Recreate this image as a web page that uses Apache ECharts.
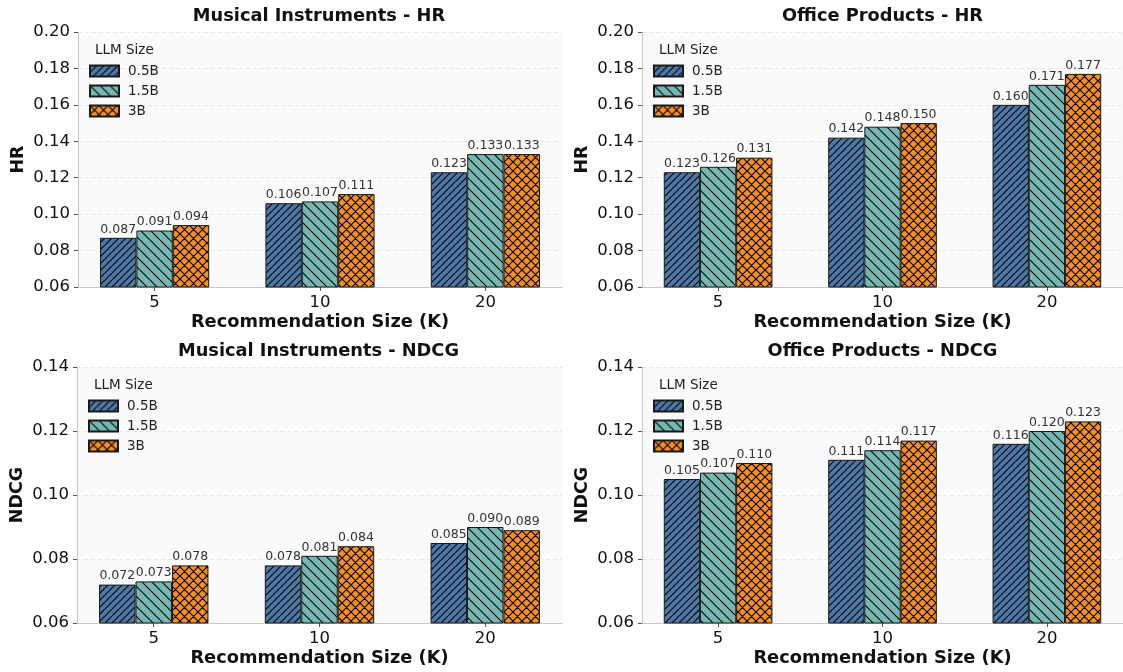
<!DOCTYPE html>
<html>
<head>
<meta charset="utf-8">
<script src="https://cdn.jsdelivr.net/npm/echarts@6/dist/echarts.min.js"></script>
<style>
html,body{margin:0;padding:0;background:#fff;}
#chart{width:1123px;height:672px;}
</style>
</head>
<body>
<div id="chart"></div>
<script>
// ---- data ----
const categories = ['5', '10', '20'];
const sizes = ['0.5B', '1.5B', '3B'];
const panelTitles = ['Musical Instruments - HR', 'Office Products - HR', 'Musical Instruments - NDCG', 'Office Products - NDCG'];
const metricNames = ['HR', 'HR', 'NDCG', 'NDCG'];
const hrTicks = [0.06, 0.08, 0.10, 0.12, 0.14, 0.16, 0.18, 0.20];
const ndcgTicks = [0.06, 0.08, 0.10, 0.12, 0.14];

const musicalHR_05 = [0.087, 0.106, 0.123];
const musicalHR_15 = [0.091, 0.107, 0.133];
const musicalHR_3  = [0.094, 0.111, 0.133];
const officeHR_05 = [0.123, 0.142, 0.160];
const officeHR_15 = [0.126, 0.148, 0.171];
const officeHR_3  = [0.131, 0.150, 0.177];
const musicalNDCG_05 = [0.072, 0.078, 0.085];
const musicalNDCG_15 = [0.073, 0.081, 0.090];
const musicalNDCG_3  = [0.078, 0.084, 0.089];
const officeNDCG_05 = [0.105, 0.111, 0.116];
const officeNDCG_15 = [0.107, 0.114, 0.120];
const officeNDCG_3  = [0.110, 0.117, 0.123];

const panelData = [
  [musicalHR_05, musicalHR_15, musicalHR_3],
  [officeHR_05, officeHR_15, officeHR_3],
  [musicalNDCG_05, musicalNDCG_15, musicalNDCG_3],
  [officeNDCG_05, officeNDCG_15, officeNDCG_3]
];
const panelTicks = [hrTicks, hrTicks, ndcgTicks, ndcgTicks];

// ---- style ----
const fills = ['#4e79a7', '#76b7b2', '#f28e2b'];
const hatchKinds = ['/', '\\', 'x'];
const hatchSizes = [7, 10, 9];
const barW = 0.22;
const xMin = -0.463, xMax = 2.463;
const grids = [
  {left: 78, top: 32, width: 484, height: 255},
  {left: 642, top: 32, width: 483, height: 255},
  {left: 77, top: 367, width: 485, height: 256},
  {left: 642, top: 367, width: 483, height: 256}
];
const FONT = 'DejaVu Sans';

function makePattern(fill, kind, s) {
  const c = document.createElement('canvas');
  c.width = s; c.height = s;
  const g = c.getContext('2d');
  g.fillStyle = fill; g.fillRect(0, 0, s, s);
  g.strokeStyle = 'rgba(0,0,0,0.95)'; g.lineWidth = 1.2;
  g.beginPath();
  for (let k = -1; k <= 1; k++) {
    if (kind === '/' || kind === 'x') { g.moveTo(k * s, s); g.lineTo(k * s + s, 0); }
    if (kind === '\\' || kind === 'x') { g.moveTo(k * s, 0); g.lineTo(k * s + s, s); }
  }
  g.stroke();
  return c;
}
const patterns = fills.map((f, i) => makePattern(f, hatchKinds[i], hatchSizes[i]));

const chart = echarts.init(document.getElementById('chart'), null, {renderer: 'canvas'});

const xAxes = [], yAxes = [], series = [], legends = [], graphics = [];
grids.forEach((gr, gi) => {
  const ticks = panelTicks[gi];
  xAxes.push({
    type: 'value', gridIndex: gi, min: xMin, max: xMax,
    name: 'Recommendation Size (K)', nameLocation: 'middle', nameGap: 26,
    nameTextStyle: {fontFamily: FONT, fontSize: 17.8, fontWeight: 'bold', color: '#111'},
    axisLine: {show: true, onZero: false, lineStyle: {color: '#c8c8c8', width: 1}},
    axisTick: {show: true, customValues: [0, 1, 2], length: 4, lineStyle: {color: '#555'}},
    axisLabel: {customValues: [0, 1, 2], formatter: v => categories[Math.round(v)], margin: 7,
      fontFamily: FONT, fontSize: 16.5, color: '#111'},
    splitLine: {show: false}
  });
  yAxes.push({
    type: 'value', gridIndex: gi, min: ticks[0], max: ticks[ticks.length - 1], interval: 0.02,
    name: metricNames[gi], nameLocation: 'middle', nameGap: 51, nameRotate: 90,
    nameTextStyle: {fontFamily: FONT, fontSize: 17.5, fontWeight: 'bold', color: '#111'},
    axisLine: {show: true, onZero: false, lineStyle: {color: '#c8c8c8', width: 1}},
    axisTick: {show: true, length: 4, lineStyle: {color: '#555'}},
    axisLabel: {formatter: v => v.toFixed(2), margin: 8, fontFamily: FONT, fontSize: 16.5, color: '#111'},
    splitLine: {show: true, lineStyle: {color: '#e2e2e2', type: [4, 3], width: 0.8}}
  });
  const pxPerUnit = gr.width / (xMax - xMin);
  sizes.forEach((sz, si) => {
    series.push({
      type: 'bar', name: sz, xAxisIndex: gi, yAxisIndex: gi,
      barWidth: barW * pxPerUnit, barGap: '-100%',
      data: panelData[gi][si].map((v, i) => [i + (si - 1) * barW, v]),
      itemStyle: {color: {image: patterns[si], repeat: 'repeat'}, borderColor: '#1a1a1a', borderWidth: 1},
      label: {show: true, position: 'top', distance: 2, formatter: p => p.value[1].toFixed(3),
        fontFamily: FONT, fontSize: 12.5, color: '#333'},
      emphasis: {disabled: true},
      animation: false
    });
  });
  legends.push({
    orient: 'vertical', left: gr.left + 6, top: gr.top + 27, itemWidth: 29, itemHeight: 11, itemGap: 6,
    data: sizes, selectedMode: false, icon: 'rect',
    textStyle: {fontFamily: FONT, fontSize: 13.5, color: '#222', padding: [0, 0, 0, 4]}
  });
  graphics.push({
    type: 'text', left: gr.left + 17, top: gr.top + 11,
    style: {text: 'LLM Size', font: '13.5px "DejaVu Sans"', fill: '#222'}
  });
  graphics.push({
    type: 'text', x: gr.left + gr.width / 2 - 1, y: gr.top - 16,
    style: {text: panelTitles[gi], font: 'bold 17.8px "DejaVu Sans"', fill: '#111', align: 'center', verticalAlign: 'middle'}
  });
});

chart.setOption({
  backgroundColor: '#fff',
  animation: false,
  grid: grids.map(g => Object.assign({show: true, backgroundColor: '#fafafa', borderWidth: 0}, g)),
  xAxis: xAxes,
  yAxis: yAxes,
  legend: legends,
  series: series,
  graphic: graphics
});
</script>
</body>
</html>
